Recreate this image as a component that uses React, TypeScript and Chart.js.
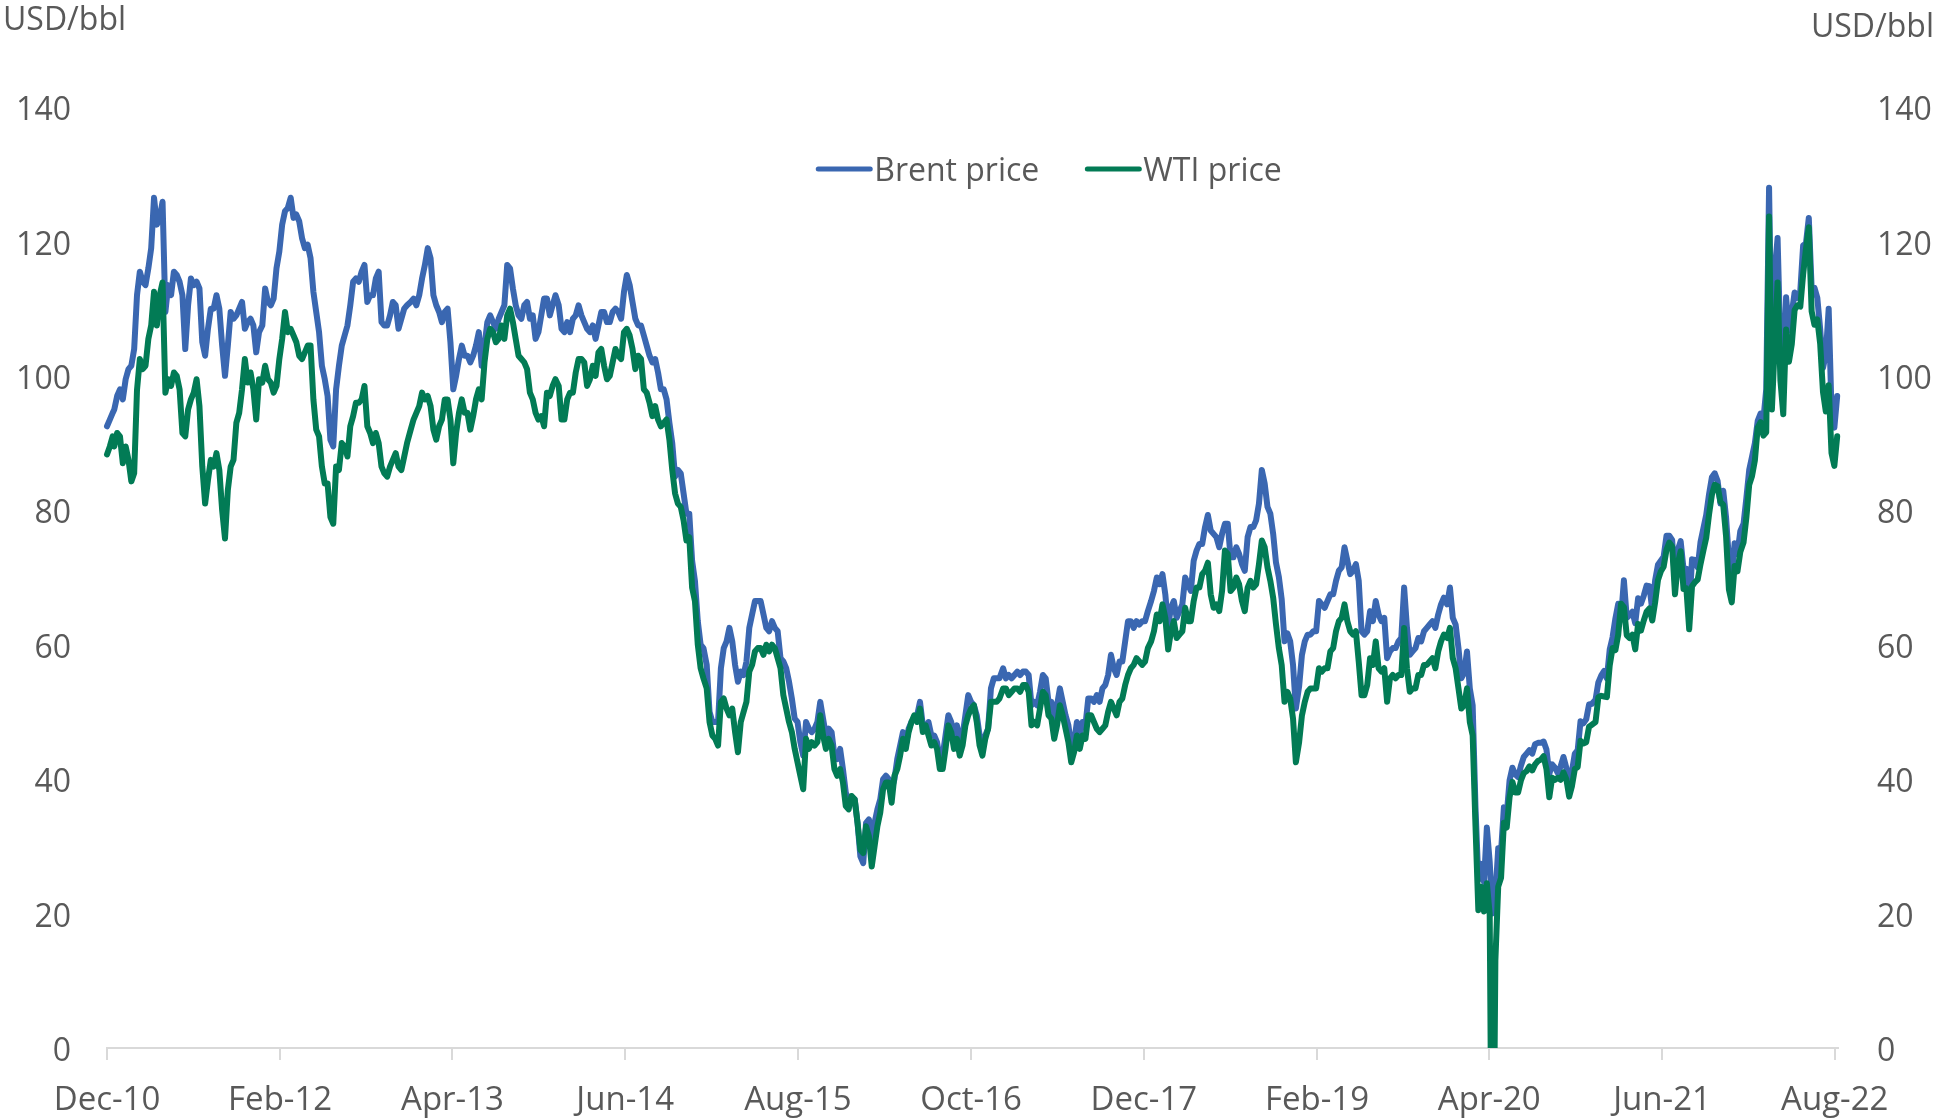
import React, { useEffect, useRef } from 'react';
import { Chart, registerables } from 'chart.js';

Chart.register(...registerables);

// ---------- axis / label data ----------
const AXIS_START = '2010-12-14';
const AXIS_END = '2022-08-22';
const TICK_DATES = ['2010-12-14', '2012-02-14', '2013-04-14', '2014-06-14', '2015-08-14', '2016-10-14', '2017-12-14', '2019-02-14', '2020-04-14', '2021-06-14', '2022-08-14'];
const TICK_LABELS = ['Dec-10', 'Feb-12', 'Apr-13', 'Jun-14', 'Aug-15', 'Oct-16', 'Dec-17', 'Feb-19', 'Apr-20', 'Jun-21', 'Aug-22'];
const Y_MIN = 0;
const Y_MAX = 140;
const Y_STEP = 20;
const AXIS_TITLE = 'USD/bbl';
const SERIES_NAMES = ['Brent price', 'WTI price'];

// ---------- weekly prices (USD/bbl) ----------
// Each block starts on its start date and steps 7 days.
const brent2010 = [92.5, 93.5, 94.5];
const wti2010 = [88.3, 89.5, 91.0];

const brent2011 = [
  95.0, 97.0, 98.0, 96.5, 99.5,
  101.0, 101.5, 104.0, 112.0,
  115.5, 114.0, 113.5, 116.0,
  119.0, 126.5, 122.5, 123.5, 125.9,
  109.5, 113.5, 112.0, 115.5,
  115.0, 114.0, 112.0, 104.0,
  110.5, 114.5, 113.5, 114.0, 113.0,
  105.0, 103.0, 107.0, 110.0,
  110.0, 112.0, 110.0, 104.5,
  100.0, 104.5, 109.5, 108.5, 109.0,
  110.0, 111.0, 107.0, 108.0,
  108.5, 107.5, 103.5, 106.5,
];
const wti2011 = [
  89.5, 91.5, 91.0, 87.0, 89.5,
  87.5, 84.3, 85.5, 97.9,
  102.5, 101.0, 101.5, 105.5,
  107.5, 112.5, 107.5, 112.0, 113.9,
  97.5, 99.5, 98.5, 100.5,
  100.0, 98.0, 91.5, 91.0,
  95.0, 96.5, 97.5, 99.5, 95.5,
  86.5, 81.0, 84.5, 87.5,
  86.5, 88.5, 86.0, 80.0,
  75.8, 83.0, 86.5, 87.5, 93.0,
  94.5, 98.0, 102.5, 99.0,
  100.5, 98.0, 93.5, 99.5,
];

const brent2012 = [
  107.5, 113.0, 111.0, 110.5, 111.5,
  116.0, 118.5, 122.5, 124.5,
  125.0, 126.5, 123.5, 124.0,
  123.0, 120.5, 119.0, 119.5, 117.5,
  112.5, 109.5, 106.5, 101.5,
  99.5, 97.0, 90.5, 89.5,
  98.0, 101.5, 104.5, 106.0, 107.5,
  110.5, 114.0, 114.5, 114.0,
  115.5, 116.5, 111.0, 112.0,
  112.0, 114.5, 115.5, 108.0, 107.5,
  107.5, 109.0, 111.0, 110.5,
  107.0, 108.5, 110.0, 110.5,
];
const wti2012 = [
  99.0, 101.5, 99.5, 99.0, 97.5,
  98.5, 102.5, 105.5, 109.5,
  106.5, 107.0, 106.0, 105.0,
  103.0, 102.5, 103.5, 104.5, 104.5,
  96.5, 92.0, 91.0, 86.5,
  84.0, 84.0, 79.0, 78.0,
  86.5, 86.0, 90.0, 89.5, 88.0,
  92.5, 94.0, 96.0, 96.0,
  96.5, 98.5, 92.5, 91.5,
  90.0, 91.5, 90.0, 86.5, 85.5,
  85.0, 86.5, 87.5, 88.5,
  86.5, 86.0, 88.0, 90.0,
];

const brent2013 = [
  111.0, 111.5, 110.5, 112.0, 114.5,
  116.5, 119.0, 117.5, 112.0,
  110.5, 109.5, 108.0, 109.5,
  110.0, 105.0, 98.0, 100.0, 102.5,
  104.5, 103.0, 103.0, 102.0,
  103.0, 104.5, 106.5, 101.5,
  104.5, 108.0, 109.0, 108.0, 107.0,
  108.5, 109.5, 110.5, 116.5,
  116.0, 113.0, 110.5, 109.0,
  108.5, 110.5, 111.0, 108.5, 109.0,
  105.5, 106.5, 109.0, 111.5,
  111.5, 109.0, 110.5, 112.0,
];
const wti2013 = [
  92.0, 93.5, 94.5, 95.5, 97.5,
  96.5, 97.0, 95.5, 92.0,
  90.5, 92.5, 93.5, 96.5,
  96.5, 93.5, 87.0, 91.5, 94.5,
  96.5, 94.5, 94.5, 92.0,
  94.0, 96.5, 98.0, 96.5,
  102.0, 105.5, 107.0, 106.5, 105.0,
  105.5, 107.5, 105.5, 109.0,
  110.0, 108.0, 105.5, 103.0,
  102.5, 102.0, 101.0, 97.5, 96.5,
  94.5, 93.5, 94.0, 92.5,
  97.5, 97.0, 98.5, 99.5,
];

const brent2014 = [
  110.5, 107.0, 106.5, 108.0, 106.5,
  108.5, 109.0, 110.5, 109.0,
  108.0, 107.0, 106.5, 107.5,
  105.5, 107.5, 109.5, 109.5, 108.0,
  108.0, 109.5, 110.0, 109.5,
  108.5, 112.5, 115.0, 113.5,
  111.0, 108.5, 107.5, 107.5, 106.0,
  104.5, 103.0, 102.0, 102.5,
  100.5, 98.0, 98.0, 96.5,
  93.0, 90.0, 85.0, 86.0, 85.5,
  82.5, 79.5, 79.5, 72.5,
  69.5, 63.5, 60.0, 59.5,
];
const wti2014 = [
  98.5, 93.5, 93.5, 96.5, 97.5,
  97.5, 100.5, 102.5, 102.5,
  102.0, 98.5, 99.5, 101.5,
  100.0, 103.5, 104.0, 101.5, 99.5,
  100.0, 102.0, 104.0, 103.0,
  102.5, 106.5, 107.0, 106.0,
  104.0, 101.0, 103.0, 102.5, 98.0,
  97.5, 96.0, 94.0, 95.5,
  93.5, 92.5, 93.0, 93.5,
  90.5, 86.0, 82.5, 81.0, 80.5,
  78.5, 75.5, 76.0, 68.5,
  66.5, 60.0, 56.5, 55.0,
];

const brent2015 = [
  57.0, 50.0, 48.5, 48.5, 48.5,
  56.5, 59.5, 60.5, 62.5,
  60.5, 57.0, 54.5, 56.0,
  55.5, 57.5, 62.5, 64.5, 66.5,
  66.5, 66.5, 64.5, 62.5,
  62.0, 63.5, 62.5, 62.0,
  58.0, 57.5, 56.5, 54.5, 52.0,
  49.0, 48.5, 45.5, 43.5,
  48.5, 47.5, 47.0, 47.5,
  48.5, 51.5, 49.0, 46.5, 47.5,
  47.0, 43.5, 43.0, 44.5,
  41.5, 38.0, 36.5, 36.5,
];
const wti2015 = [
  53.5, 48.5, 46.5, 46.0, 45.0,
  51.5, 52.0, 50.5, 49.5,
  50.5, 47.0, 44.0, 48.5,
  50.0, 51.5, 56.0, 57.0, 59.0,
  59.5, 59.5, 58.5, 60.0,
  59.0, 60.0, 59.5, 58.0,
  56.5, 52.5, 50.5, 48.5, 47.0,
  44.5, 42.5, 40.5, 38.5,
  46.0, 44.5, 45.5, 45.0,
  45.5, 49.5, 46.5, 44.5, 46.0,
  45.0, 41.5, 40.5, 41.5,
  39.5, 36.0, 35.5, 37.5,
];

const brent2016 = [
  37.0, 33.5, 28.5, 27.5, 33.5,
  34.0, 31.0, 33.5, 35.5,
  37.0, 40.0, 40.5, 40.0,
  38.5, 40.0, 43.0, 45.0, 47.0,
  45.0, 47.5, 48.5, 49.0,
  49.5, 51.5, 48.0, 47.5,
  48.5, 46.5, 46.5, 45.5, 43.0,
  43.5, 46.5, 49.5, 48.5,
  46.5, 48.0, 46.0, 46.5,
  49.5, 52.5, 51.5, 51.0, 49.5,
  46.5, 44.5, 46.5, 47.5,
  53.5, 55.0, 55.0, 55.0,
];
const wti2016 = [
  37.0, 33.5, 29.5, 29.0, 33.0,
  31.5, 27.0, 30.0, 33.0,
  35.0, 38.5, 39.5, 39.5,
  36.5, 40.5, 41.5, 43.5, 46.0,
  44.5, 47.0, 48.5, 49.5,
  48.5, 50.5, 47.0, 48.0,
  46.5, 45.0, 45.5, 44.5, 41.5,
  41.5, 44.5, 48.0, 47.0,
  44.5, 46.0, 43.5, 45.0,
  48.0, 49.5, 50.5, 51.0, 48.5,
  45.0, 43.5, 46.0, 47.5,
  51.5, 51.5, 51.5, 52.0,
];

const brent2017 = [
  56.5, 55.0, 55.5, 55.0, 55.5,
  56.0, 55.5, 56.0, 56.0,
  55.5, 51.0, 51.5, 51.0,
  53.0, 55.5, 55.0, 51.5, 51.5,
  49.0, 51.0, 53.5, 51.5,
  49.5, 48.0, 45.0, 45.5,
  48.5, 46.5, 48.5, 48.0, 52.0,
  52.0, 51.5, 52.5, 51.5,
  53.5, 54.0, 55.5, 58.5,
  56.5, 55.5, 57.5, 57.5, 60.5,
  63.5, 63.5, 62.5, 63.5,
  63.0, 63.5, 63.5, 65.0,
];
const wti2017 = [
  53.5, 53.5, 52.5, 53.0, 53.5,
  53.5, 53.0, 54.0, 54.0,
  53.0, 48.0, 48.5, 48.0,
  50.5, 53.0, 52.5, 49.5, 49.0,
  46.0, 48.0, 51.0, 49.5,
  47.5, 45.5, 42.5, 44.0,
  46.5, 44.5, 46.5, 46.0, 49.5,
  49.5, 48.5, 47.5, 47.0,
  47.5, 48.0, 50.0, 51.5,
  50.5, 49.5, 51.5, 52.0, 54.0,
  55.5, 56.5, 57.0, 58.0,
  57.5, 57.0, 57.5, 59.5,
];

const brent2018 = [
  66.5, 68.0, 70.0, 69.0, 70.5,
  67.5, 62.8, 65.5, 66.5,
  64.0, 65.0, 66.0, 70.0,
  69.0, 68.0, 72.5, 74.0, 75.0,
  75.0, 77.5, 79.3, 77.0,
  76.5, 76.0, 74.5, 76.5,
  78.0, 78.0, 73.0, 73.0, 74.5,
  73.5, 72.0, 71.0, 76.0,
  77.5, 77.5, 78.5, 81.0,
  86.0, 84.0, 80.5, 79.5, 76.5,
  72.2, 70.1, 66.8, 60.5,
  61.7, 60.5, 57.0, 50.5,
];
const wti2018 = [
  60.5, 62.0, 64.5, 63.5, 66.0,
  64.0, 59.3, 62.0, 63.5,
  61.0, 61.5, 62.0, 65.5,
  63.5, 63.5, 66.5, 68.5, 68.5,
  70.5, 71.0, 72.2, 67.5,
  65.5, 66.0, 65.0, 68.0,
  74.0, 73.5, 68.0, 68.5, 70.0,
  69.0, 66.5, 65.0, 68.5,
  69.5, 68.5, 69.0, 72.0,
  75.5, 74.5, 71.5, 69.5, 67.0,
  63.0, 59.5, 57.0, 51.5,
  53.0, 52.0, 49.0, 42.5,
];

const brent2019 = [
  53.8, 58.5, 60.5, 61.5, 61.5,
  62.0, 62.0, 66.5, 66.0,
  65.5, 66.5, 67.5, 67.5,
  69.5, 71.0, 71.5, 74.5, 72.5,
  70.5, 71.0, 72.0, 69.5,
  62.0, 61.5, 62.0, 65.0,
  63.5, 66.5, 64.5, 63.5, 64.0,
  58.0, 59.0, 59.5, 59.5,
  60.5, 61.0, 68.5, 62.5,
  58.5, 59.0, 59.5, 61.0, 60.5,
  62.0, 62.5, 63.0, 63.5,
  62.5, 64.5, 66.0, 67.0,
];
const wti2019 = [
  45.5, 49.5, 51.5, 53.0, 53.5,
  53.5, 53.5, 56.5, 56.0,
  56.5, 56.5, 59.0, 59.5,
  62.0, 63.5, 64.0, 66.0, 63.5,
  62.0, 61.5, 62.0, 57.5,
  52.5, 52.5, 54.0, 58.0,
  57.0, 60.5, 56.5, 56.0, 56.5,
  51.5, 55.0, 55.5, 55.0,
  55.5, 55.5, 62.5, 56.5,
  53.0, 53.5, 53.5, 55.5, 55.5,
  57.0, 57.0, 57.5, 58.0,
  56.5, 59.0, 60.5, 61.5,
];

const brent2020 = [
  66.0, 68.5, 64.0, 63.0, 59.5,
  55.0, 55.8, 59.0, 53.5,
  51.0, 35.8, 25.0, 27.4,
  24.7, 32.8, 27.7, 20.0, 22.5,
  29.7, 29.2, 35.8, 34.7,
  39.8, 41.7, 40.7, 40.3,
  42.0, 43.3, 43.8, 44.3, 43.8,
  45.2, 45.4, 45.4, 45.6,
  44.4, 40.8, 42.2, 41.7, 40.9,
  41.9, 43.3, 41.7, 39.1,
  41.2, 43.8, 44.3, 48.6,
  48.3, 48.9, 51.1, 51.2,
];
const wti2020 = [
  61.0, 62.5, 58.0, 56.5, 53.5,
  50.5, 51.0, 53.5, 48.5,
  46.5, 33.0, 20.5, 24.0,
  20.3, 24.5, 19.9, -37.6, 13.0,
  24.0, 25.3, 33.5, 32.8,
  37.3, 39.6, 38.0, 38.0,
  39.8, 40.9, 41.2, 41.9, 41.3,
  42.2, 42.7, 42.9, 43.4,
  41.5, 37.3, 40.2, 39.9, 40.2,
  39.9, 41.0, 40.0, 37.4,
  39.0, 41.5, 41.8, 45.7,
  45.3, 45.5, 47.8, 48.1,
];

const brent2021 = [
  51.8, 54.4, 55.4, 56.1, 55.0,
  59.3, 61.1, 63.9, 66.1,
  64.1, 69.6, 64.0, 64.4,
  64.9, 63.2, 66.9, 66.1, 67.3,
  68.8, 68.7, 65.1, 69.6,
  71.9, 72.5, 73.1, 76.2,
  76.2, 75.6, 69.5, 74.1, 75.4,
  71.3, 71.3, 65.2, 72.7,
  72.6, 71.5, 75.3, 77.3,
  79.3, 82.4, 84.9, 85.5, 84.4,
  81.0, 82.9, 78.9, 72.7,
  69.7, 75.1, 73.5, 76.9,
];
const wti2021 = [
  48.5, 52.2, 52.4, 52.3, 52.2,
  56.9, 59.5, 59.2, 61.5,
  66.1, 65.6, 61.4, 61.0,
  61.5, 59.3, 63.1, 62.1, 63.6,
  64.9, 65.4, 63.6, 66.3,
  69.6, 70.9, 71.6, 74.1,
  75.2, 74.6, 67.5, 72.1, 73.9,
  68.3, 68.4, 62.3, 68.7,
  69.3, 69.7, 72.0, 74.0,
  75.9, 79.4, 82.3, 83.8, 83.6,
  81.3, 80.8, 76.1, 68.2,
  66.3, 71.7, 70.9, 73.8,
];

const brent2022 = [
  78.0, 81.8, 86.0, 88.0, 90.0,
  93.3, 94.4, 93.5, 98.0,
  128.0, 100.0, 115.6, 120.5,
  104.4, 98.5, 111.7, 106.7, 109.3,
  112.4, 111.6, 112.6, 119.4,
  119.7, 123.5, 113.1, 113.1,
  111.6, 107.0, 101.2, 103.2, 110.0,
  94.9, 92.3, 97.0,
];
const wti2022 = [
  75.2, 78.9, 83.8, 85.1, 87.4,
  92.3, 93.1, 91.1, 91.6,
  123.7, 95.0, 104.7, 113.9,
  99.3, 94.3, 106.9, 102.1, 104.7,
  109.8, 110.5, 110.3, 115.1,
  118.9, 122.1, 109.6, 107.6,
  108.4, 104.8, 97.6, 94.7, 98.6,
  88.5, 86.6, 91.0,
];

const BLOCK_STARTS = ['2010-12-14', '2011-01-01', '2012-01-01', '2013-01-01', '2014-01-01', '2015-01-01', '2016-01-01', '2017-01-01', '2018-01-01', '2019-01-01', '2020-01-01', '2021-01-01', '2022-01-01'];
const BRENT_BLOCKS = [brent2010, brent2011, brent2012, brent2013, brent2014, brent2015, brent2016, brent2017, brent2018, brent2019, brent2020, brent2021, brent2022];
const WTI_BLOCKS = [wti2010, wti2011, wti2012, wti2013, wti2014, wti2015, wti2016, wti2017, wti2018, wti2019, wti2020, wti2021, wti2022];

// ---------- styles ----------
const BRENT_COLOR = '#3A67B1';
const WTI_COLOR = '#027B55';
const TEXT_COLOR = '#595959';
const AXIS_COLOR = '#D9D9D9';
const FONT_FAMILY = '"Open Sans", "Noto Sans", sans-serif';
const FONT_SIZE = 32;

const W = 1937;
const H = 1119;

const dayOf = (s: string) => (Date.parse(s + 'T00:00:00Z') - Date.parse(AXIS_START + 'T00:00:00Z')) / 86400000;

const buildPoints = (blocks: number[][]) => {
  const pts: { x: number; y: number }[] = [];
  blocks.forEach((vals, b) => {
    const d0 = dayOf(BLOCK_STARTS[b]);
    vals.forEach((v, i) => pts.push({ x: d0 + 7 * i, y: v }));
  });
  return pts;
};

const overlayPlugin = {
  id: 'overlayText',
  afterDraw(chart: any) {
    const ctx = chart.ctx as CanvasRenderingContext2D;
    ctx.save();
    ctx.font = `${FONT_SIZE}px ${FONT_FAMILY}`;
    ctx.fillStyle = TEXT_COLOR;
    ctx.textBaseline = 'alphabetic';
    ctx.textAlign = 'left';
    ctx.fillText(AXIS_TITLE, 3, 30);
    ctx.textAlign = 'right';
    ctx.fillText(AXIS_TITLE, 1934, 37);

    // legend
    const colors = [BRENT_COLOR, WTI_COLOR];
    const sample = 56;
    const gap = 2;
    const itemGap = 46;
    const widths = SERIES_NAMES.map((n) => ctx.measureText(n).width);
    const total = widths.reduce((a, w) => a + sample + gap + w, 0) + itemGap;
    let x = 1049 - total / 2;
    const yLine = 169;
    const yText = 181;
    ctx.textAlign = 'left';
    SERIES_NAMES.forEach((n, i) => {
      ctx.strokeStyle = colors[i];
      ctx.lineWidth = 5;
      ctx.lineCap = 'round';
      ctx.beginPath();
      ctx.moveTo(x + 2, yLine);
      ctx.lineTo(x + sample - 2, yLine);
      ctx.stroke();
      ctx.fillStyle = TEXT_COLOR;
      ctx.fillText(n, x + sample + gap, yText);
      x += sample + gap + widths[i] + itemGap;
    });
    ctx.restore();
  },
};

export default function App() {
  const ref = useRef<HTMLCanvasElement | null>(null);

  useEffect(() => {
    if (!ref.current) return;
    const tickDays = TICK_DATES.map(dayOf);
    const tickFont = { family: FONT_FAMILY, size: FONT_SIZE };
    const xTickFont = { family: FONT_FAMILY, size: 33 };
    const lineStyle = {
      borderWidth: 6,
      pointRadius: 0,
      tension: 0,
      borderJoinStyle: 'round',
      borderCapStyle: 'round',
      clip: { left: 4, right: 4, top: 4, bottom: 0 },
    };
    const chart = new Chart(ref.current, {
      type: 'line',
      data: {
        datasets: [
          {
            ...lineStyle,
            label: SERIES_NAMES[0],
            data: buildPoints(BRENT_BLOCKS),
            borderColor: BRENT_COLOR,
            backgroundColor: BRENT_COLOR,
            order: 2,
          },
          {
            ...lineStyle,
            label: SERIES_NAMES[1],
            data: buildPoints(WTI_BLOCKS),
            borderColor: WTI_COLOR,
            backgroundColor: WTI_COLOR,
            order: 1,
          },
        ],
      },
      options: {
        animation: false,
        responsive: false,
        devicePixelRatio: 1,
        events: [],
        parsing: false as any,
        normalized: true,
        layout: { padding: { top: 107, left: 0, right: 0, bottom: 0 } },
        plugins: {
          legend: { display: false },
          tooltip: { enabled: false },
          title: { display: false },
        },
        scales: {
          x: {
            type: 'linear',
            min: 0,
            max: dayOf(AXIS_END),
            afterBuildTicks: (s: any) => {
              s.ticks = tickDays.map((v) => ({ value: v }));
            },
            afterFit: (s: any) => {
              s.height = H - 1048;
            },
            ticks: {
              autoSkip: false,
              maxRotation: 0,
              minRotation: 0,
              padding: 21,
              color: TEXT_COLOR,
              font: xTickFont,
              callback: (_v: any, i: number) => TICK_LABELS[i],
            },
            grid: {
              drawOnChartArea: false,
              drawTicks: true,
              tickLength: 12,
              color: AXIS_COLOR,
              lineWidth: 2,
            },
            border: { display: true, color: AXIS_COLOR, width: 2 },
          },
          y: {
            type: 'linear',
            position: 'left',
            min: Y_MIN,
            max: Y_MAX,
            afterFit: (s: any) => {
              s.width = 107;
            },
            ticks: { stepSize: Y_STEP, padding: 36, labelOffset: 4, color: TEXT_COLOR, font: tickFont },
            grid: { display: false, drawTicks: false },
            border: { display: false },
          },
          y2: {
            type: 'linear',
            position: 'right',
            min: Y_MIN,
            max: Y_MAX,
            afterFit: (s: any) => {
              s.width = W - 1838;
            },
            ticks: { stepSize: Y_STEP, padding: 39, labelOffset: 4, color: TEXT_COLOR, font: tickFont },
            grid: { display: false, drawTicks: false },
            border: { display: false },
          },
        },
      },
      plugins: [overlayPlugin],
    } as any);
    return () => chart.destroy();
  }, []);

  return (
    <div style={{ position: 'absolute', left: 0, top: 0, width: W, height: H, background: '#fff' }}>
      <canvas ref={ref} width={W} height={H} style={{ display: 'block', width: W, height: H }} />
    </div>
  );
}
